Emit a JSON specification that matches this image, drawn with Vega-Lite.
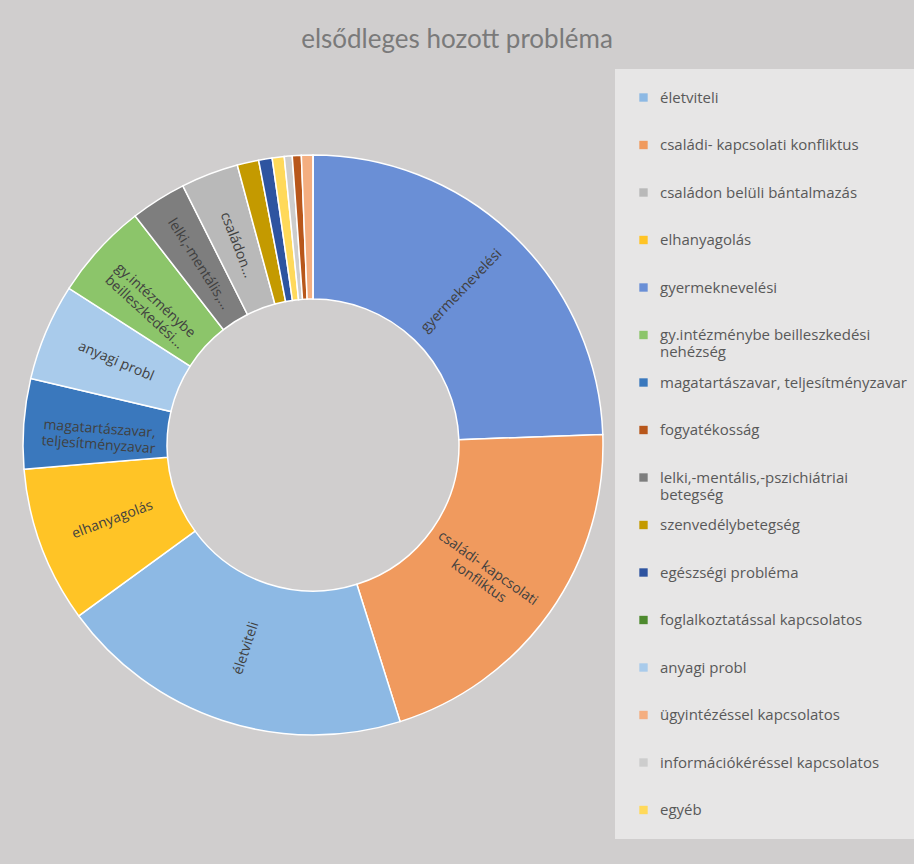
{
  "$schema": "https://vega.github.io/schema/vega-lite/v6.json",
  "autosize": {"type": "none"},
  "width": 580,
  "height": 580,
  "padding": {"left": 23, "top": 155, "right": 311, "bottom": 129},
  "background": "#D0CECE",
  "title": {
    "text": "elsődleges hozott probléma",
    "font": "Lato",
    "fontSize": 26,
    "fontWeight": "normal",
    "color": "#7a7a7a",
    "anchor": "middle",
    "frame": "group",
    "dx": 144,
    "offset": 16
  },
  "data": {
    "values": [
      {"kategoria": "gyermeknevelési", "ertek": 24.4, "sorrend": 1, "felirat": "gyermeknevelési"},
      {"kategoria": "családi- kapcsolati konfliktus", "ertek": 20.7, "sorrend": 2, "felirat": "családi- kapcsolati\nkonfliktus"},
      {"kategoria": "életviteli", "ertek": 19.8, "sorrend": 3, "felirat": "életviteli"},
      {"kategoria": "elhanyagolás", "ertek": 8.7, "sorrend": 4, "felirat": "elhanyagolás"},
      {"kategoria": "magatartászavar, teljesítményzavar", "ertek": 5.0, "sorrend": 5, "felirat": "magatartászavar,\nteljesítményzavar"},
      {"kategoria": "anyagi probl", "ertek": 5.4, "sorrend": 6, "felirat": "anyagi probl"},
      {"kategoria": "gy.intézménybe beilleszkedési nehézség", "ertek": 5.4, "sorrend": 7, "felirat": "gy.intézménybe\nbeilleszkedési..."},
      {"kategoria": "lelki,-mentális,-pszichiátriai betegség", "ertek": 3.1, "sorrend": 8, "felirat": "lelki,-mentális,..."},
      {"kategoria": "családon belüli bántalmazás", "ertek": 3.2, "sorrend": 9, "felirat": "családon..."},
      {"kategoria": "szenvedélybetegség", "ertek": 1.2, "sorrend": 10, "felirat": ""},
      {"kategoria": "egészségi probléma", "ertek": 0.75, "sorrend": 11, "felirat": ""},
      {"kategoria": "egyéb", "ertek": 0.67, "sorrend": 12, "felirat": ""},
      {"kategoria": "információkéréssel kapcsolatos", "ertek": 0.44, "sorrend": 13, "felirat": ""},
      {"kategoria": "fogyatékosság", "ertek": 0.5, "sorrend": 14, "felirat": ""},
      {"kategoria": "ügyintézéssel kapcsolatos", "ertek": 0.64, "sorrend": 15, "felirat": ""},
      {"kategoria": "foglalkoztatással kapcsolatos", "ertek": 0.0, "sorrend": 16, "felirat": ""}
    ]
  },
  "transform": [
    {"joinaggregate": [{"op": "sum", "field": "ertek", "as": "osszes"}]},
    {"window": [{"op": "sum", "field": "ertek", "as": "kumulalt"}], "sort": [{"field": "sorrend", "order": "ascending"}], "frame": [null, 0]},
    {"calculate": "(datum.kumulalt - datum.ertek / 2) / datum.osszes * 360 - 90", "as": "nyers_szog"},
    {"calculate": "datum.nyers_szog > 90 ? datum.nyers_szog - 180 : datum.nyers_szog", "as": "szog"}
  ],
  "encoding": {
    "theta": {"field": "ertek", "type": "quantitative", "stack": true},
    "order": {"field": "sorrend", "type": "quantitative", "sort": "ascending"}
  },
  "layer": [
    {
      "mark": {"type": "arc", "outerRadius": 290, "innerRadius": 146, "stroke": "#ffffff", "strokeWidth": 1.5},
      "encoding": {
        "color": {
          "field": "kategoria",
          "type": "nominal",
          "scale": {
            "domain": ["életviteli", "családi- kapcsolati konfliktus", "családon belüli bántalmazás", "elhanyagolás", "gyermeknevelési", "gy.intézménybe beilleszkedési nehézség", "magatartászavar, teljesítményzavar", "fogyatékosság", "lelki,-mentális,-pszichiátriai betegség", "szenvedélybetegség", "egészségi probléma", "foglalkoztatással kapcsolatos", "anyagi probl", "ügyintézéssel kapcsolatos", "információkéréssel kapcsolatos", "egyéb"],
            "range": ["#8DB9E4", "#F09A5E", "#B9B9B9", "#FFC426", "#6A8FD6", "#8CC56A", "#3A78BD", "#B8571B", "#7E7E7E", "#C49A00", "#2E54A0", "#4E8A2E", "#A9CBEB", "#F4AE80", "#CDCDCD", "#FFD95A"]
          },
          "legend": {
            "title": null,
            "orient": "none",
            "legendX": 592,
            "legendY": -86,
            "fillColor": "#E7E6E6",
            "padding": 21,
            "rowPadding": 14.5,
            "gridAlign": "all",
            "symbolType": "square",
            "symbolSize": 70,
            "symbolStrokeWidth": 0,
            "labelFont": "Open Sans",
            "labelFontSize": 15,
            "labelColor": "#595959",
            "labelOffset": 9,
            "labelLimit": 300,
            "labelExpr": "datum.label == 'gy.intézménybe beilleszkedési nehézség' ? ['gy.intézménybe beilleszkedési', 'nehézség'] : datum.label == 'lelki,-mentális,-pszichiátriai betegség' ? ['lelki,-mentális,-pszichiátriai', 'betegség'] : datum.label"
          }
        }
      }
    },
    {
      "mark": {"type": "text", "radius": 214, "font": "Open Sans", "fontSize": 14, "color": "#404040", "lineBreak": "\n", "align": "center", "baseline": "middle"},
      "encoding": {
        "text": {"field": "felirat", "type": "nominal"},
        "angle": {"field": "szog", "type": "quantitative", "scale": null}
      }
    }
  ]
}
